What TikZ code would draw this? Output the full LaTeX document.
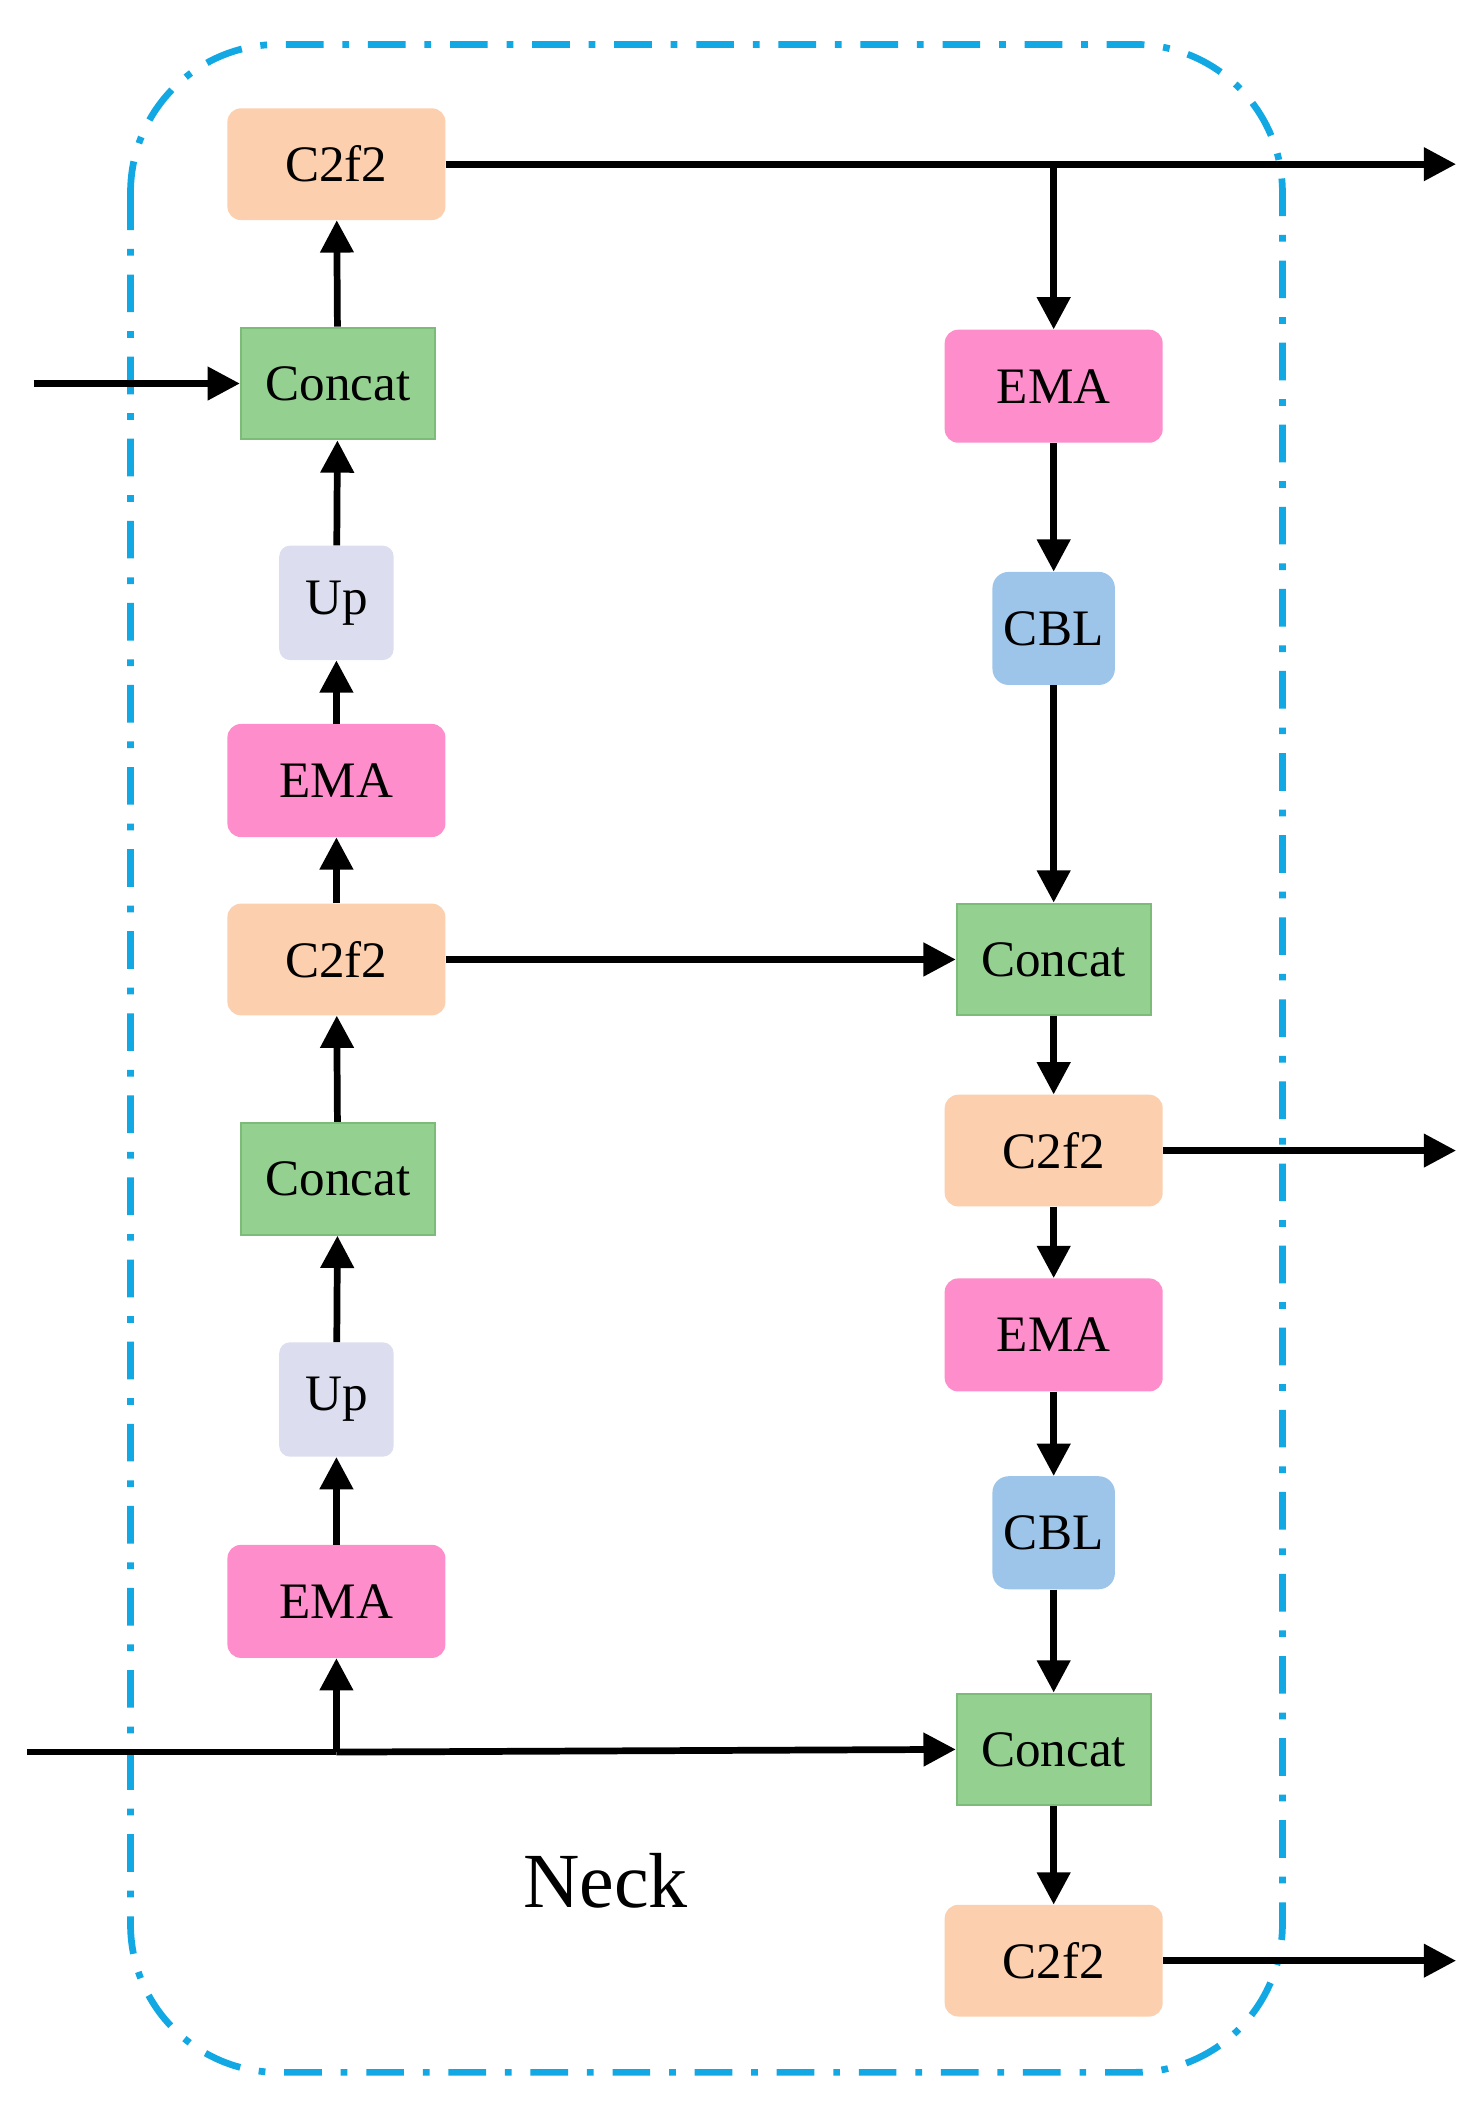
\documentclass[tikz,border=0pt]{standalone}
\usepackage{fontspec}
\setmainfont{Liberation Serif}
\usetikzlibrary{arrows.meta}
\definecolor{peach}{HTML}{FCCFAE}
\definecolor{grn}{HTML}{94D090}
\definecolor{grnb}{HTML}{7DBB78}
\definecolor{pnk}{HTML}{FE8ECB}
\definecolor{lav}{HTML}{DCDDEE}
\definecolor{blu}{HTML}{9DC5EA}
\definecolor{cyn}{HTML}{12A8E3}
\begin{document}
\begin{tikzpicture}[x=1pt,y=-1pt,
  box/.style={draw=none,inner sep=0pt,font=\fontsize{38}{40}\selectfont,text=black},
  c2f/.style={box,fill=peach,rounded corners=10pt,minimum width=162pt,minimum height=83pt},
  ema/.style={box,fill=pnk,rounded corners=10pt,minimum width=162pt,minimum height=84pt},
  cat/.style={box,fill=grn,draw=grnb,line width=1.5pt,minimum width=144pt,minimum height=83pt},
  up/.style={box,fill=lav,rounded corners=8pt,minimum width=85pt,minimum height=85pt},
  cbl/.style={box,fill=blu,rounded corners=12pt,minimum width=91pt,minimum height=84pt},
  ar/.style={line width=5pt,-{Triangle[length=24pt,width=24pt]}},
  ln/.style={line width=5pt}]
\useasboundingbox (0,0) rectangle (1100,1565);
\draw[cyn,line width=5pt,rounded corners=110pt,dash pattern=on 28pt off 14pt on 5pt off 14pt] (97,33) rectangle (953,1540);
% left column
\node[c2f] (l1) at (250,122) {C2f2};
\node[cat] (l2) at (251,285) {Concat};
\node[up] (l3) at (250,448) {Up};
\node[ema] (l4) at (250,580) {EMA};
\node[c2f] (l5) at (250,713) {C2f2};
\node[cat] (l6) at (251,876) {Concat};
\node[up] (l7) at (250,1040) {Up};
\node[ema] (l8) at (250,1190) {EMA};
% right column
\node[ema] (r1) at (783,287) {EMA};
\node[cbl] (r2) at (783,467) {CBL};
\node[cat] (r3) at (783,713) {Concat};
\node[c2f] (r4) at (783,855) {C2f2};
\node[ema] (r5) at (783,992) {EMA};
\node[cbl] (r6) at (783,1139) {CBL};
\node[cat] (r7) at (783,1300) {Concat};
\node[c2f] (r8) at (783,1457) {C2f2};
\node[font=\fontsize{58}{60}\selectfont] (neck) at (450,1398) {Neck};
% coordinates
\coordinate (inL) at (25,285);
\coordinate (inB) at (20,1302);
\coordinate (br) at (250,1302);
\coordinate (tj) at (783,122);
\coordinate (o1) at (1082,122);
\coordinate (o2) at (1082,855);
\coordinate (o3) at (1082,1457);
% connections
\draw[ar] (inL) -- (l2);
\draw[ln] (inB) -- (br);
\draw[ar] (br) -- (r7.west);
\draw[ar] (br) -- (l8);
\draw[ar] (l8) -- (l7);
\draw[ar] (l7) -- (l6);
\draw[ar] (l6) -- (l5);
\draw[ar] (l5) -- (l4);
\draw[ar] (l4) -- (l3);
\draw[ar] (l3) -- (l2);
\draw[ar] (l2) -- (l1);
\draw[ar] (l1) -- (o1);
\draw[ar] (tj) -- (r1);
\draw[ar] (r1) -- (r2);
\draw[ar] (r2) -- (r3);
\draw[ar] (l5) -- (r3);
\draw[ar] (r3) -- (r4);
\draw[ar] (r4) -- (o2);
\draw[ar] (r4) -- (r5);
\draw[ar] (r5) -- (r6);
\draw[ar] (r6) -- (r7);
\draw[ar] (r7) -- (r8);
\draw[ar] (r8) -- (o3);
\end{tikzpicture}
\end{document}
